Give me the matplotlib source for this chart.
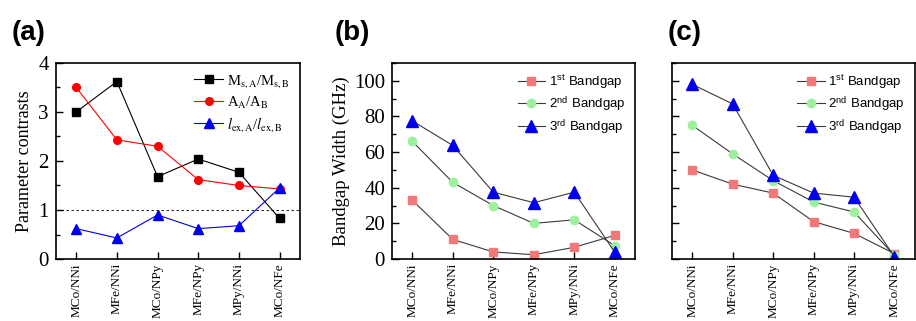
import numpy as np
import matplotlib
matplotlib.use("Agg")
import matplotlib.pyplot as plt
import matplotlib.ticker as ticker

plt.rcParams["mathtext.fontset"] = "stix"

PAIRS = ["MCo/NNi", "MFe/NNi", "MCo/NPy", "MFe/NPy", "MPy/NNi", "MCo/NFe"]

# (a) parameter contrasts
ms_ratio = [3.00, 3.62, 1.68, 2.04, 1.77, 0.83]
a_ratio = [3.50, 2.43, 2.30, 1.62, 1.50, 1.43]
lex_ratio = [0.62, 0.43, 0.90, 0.62, 0.68, 1.45]

# (b) bandgap widths (GHz)
b_gap1 = [33.0, 11.0, 4.0, 2.4, 6.6, 13.3]
b_gap2 = [66.0, 43.0, 30.0, 20.0, 22.0, 7.5]
b_gap3 = [77.5, 63.7, 37.5, 31.6, 37.5, 3.8]

# (c) bandgap widths (GHz)
c_gap1 = [50.0, 42.0, 37.0, 21.0, 14.4, 3.0]
c_gap2 = [75.0, 59.0, 44.0, 32.0, 26.4, 2.0]
c_gap3 = [98.0, 87.0, 47.0, 37.0, 34.7, 1.3]

SERIF = "Liberation Serif"
SANS = "Liberation Sans"
LINE_GREY = "#3a3a3a"
SALMON = "#f07878"
LGREEN = "#9ef09e"
BLUE = "#0000ee"

fig = plt.figure(figsize=(9.16, 3.21), dpi=100, facecolor="white")
bottom, height = 0.193, 0.611
ax_a = fig.add_axes([0.061, bottom, 0.2664, height])
ax_b = fig.add_axes([0.428, bottom, 0.2653, height])
ax_c = fig.add_axes([0.7336, bottom, 0.2650, height])

x = np.arange(len(PAIRS))


def style_axes(ax, show_ylabels=True):
    ax.set_xlim(-0.5, 5.5)
    ax.set_xticks(x)
    ax.set_xticklabels(PAIRS, rotation=90, family=SERIF, fontsize=9.5)
    ax.tick_params(axis="both", which="both", direction="in", top=False, right=False)
    ax.tick_params(axis="both", which="major", length=5, width=1.0)
    ax.tick_params(axis="y", which="minor", length=3, width=1.0)
    ax.tick_params(axis="x", which="major", pad=3)
    ax.tick_params(axis="y", which="major", pad=5)
    for sp in ax.spines.values():
        sp.set_linewidth(1.2)
    for lab in ax.get_yticklabels():
        lab.set_family(SERIF)
        lab.set_fontsize(15)
    if not show_ylabels:
        ax.tick_params(axis="y", labelleft=False)


# ── (a) ──────────────────────────────────────────────────────────────
ax_a.plot(x, ms_ratio, color="black", lw=0.8, marker="s", ms=5.5,
          label=r"M$_{\mathrm{s,A}}$/M$_{\mathrm{s,B}}$")
ax_a.plot(x, a_ratio, color="red", lw=0.8, marker="o", ms=5.5,
          label=r"A$_{\mathrm{A}}$/A$_{\mathrm{B}}$")
ax_a.plot(x, lex_ratio, color=BLUE, lw=0.8, marker="^", ms=7.5,
          label=r"$\mathit{l}_{\mathrm{ex,A}}$/$\mathit{l}_{\mathrm{ex,B}}$")
ax_a.axhline(1.0, color="black", lw=0.6, ls=(0, (3, 3)))
ax_a.set_ylim(0, 4)
ax_a.yaxis.set_major_locator(ticker.MultipleLocator(1))
ax_a.yaxis.set_minor_locator(ticker.MultipleLocator(0.5))
ax_a.set_ylabel("Parameter contrasts", family=SERIF, fontsize=13, labelpad=4)
style_axes(ax_a)
ax_a.legend(loc="upper right", frameon=False, prop={"family": SERIF, "size": 10.5},
            handlelength=2.0, handletextpad=0.25, labelspacing=0.3,
            borderaxespad=0.3)

# ── (b) and (c) ──────────────────────────────────────────────────────
def bandgap_panel(ax, g1, g2, g3, show_ylabels):
    ax.plot(x, g1, color=LINE_GREY, lw=0.8, marker="s", ms=6,
            mfc=SALMON, mec=SALMON, label=r"1$^{\mathregular{st}}$ Bandgap")
    ax.plot(x, g2, color=LINE_GREY, lw=0.8, marker="o", ms=6,
            mfc=LGREEN, mec=LGREEN, label=r"2$^{\mathregular{nd}}$ Bandgap")
    ax.plot(x, g3, color=LINE_GREY, lw=0.8, marker="^", ms=8.5,
            mfc=BLUE, mec=BLUE, label=r"3$^{\mathregular{rd}}$ Bandgap")
    ax.set_ylim(0, 110)
    ax.yaxis.set_major_locator(ticker.MultipleLocator(20))
    ax.yaxis.set_minor_locator(ticker.MultipleLocator(10))
    style_axes(ax, show_ylabels)
    ax.legend(loc="upper right", frameon=False, prop={"family": SANS, "size": 9.5},
              handlelength=2.1, handletextpad=0.25, labelspacing=0.25,
              borderaxespad=0.35)


bandgap_panel(ax_b, b_gap1, b_gap2, b_gap3, True)
ax_b.set_ylabel("Bandgap Width (GHz)", family=SERIF, fontsize=13.5, labelpad=3)
bandgap_panel(ax_c, c_gap1, c_gap2, c_gap3, False)

# panel letters
for xpos, tag in [(12, "(a)"), (335, "(b)"), (668, "(c)")]:
    fig.text(xpos / 916, 1 - 33 / 321, tag, family=SANS, fontsize=20,
             fontweight="bold", va="center", ha="left")

fig.savefig("out.png", dpi=100, facecolor="white")
